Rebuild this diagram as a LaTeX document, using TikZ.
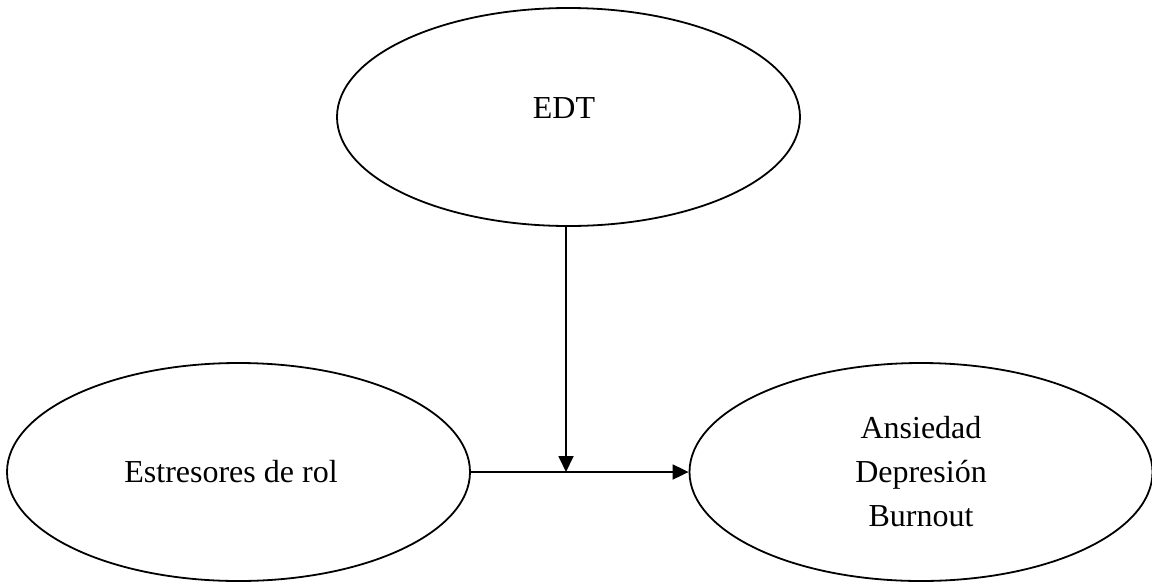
\documentclass[tikz,border=0pt]{standalone}
\usepackage{fontspec}
\setmainfont{Liberation Serif}
\usetikzlibrary{shapes.geometric,arrows.meta}
\begin{document}
\begin{tikzpicture}[x=1pt,y=-1pt,
  oval/.style={ellipse,draw,line width=1.8pt,inner sep=0pt,
    minimum width=463pt,minimum height=218pt,align=center,
    font=\fontsize{32}{44}\selectfont},
  lbl/.style={font=\fontsize{32}{44}\selectfont,inner sep=0pt},
  link/.style={line width=1.8pt,-{Triangle[length=16pt,width=15pt]}}]
\useasboundingbox (0,0) rectangle (1152,582);
% the three constructs
\node[oval] (edt) at (568.5,117) {};
\node[lbl] (edtlabel) at (564,108.5) {EDT};
\node[oval] (est) at (238.5,472) {};
\node[lbl] (estlabel) at (231,472) {Estresores de rol};
\node[oval] (ans) at (921,472) {Ansiedad\\Depresión\\Burnout};
% moderating effect meets the main path here
\coordinate (m) at (566,472);
\draw[link] (est.east) -- (ans.west);
\draw[link] (edt.south -| m) -- (m);
\end{tikzpicture}
\end{document}
